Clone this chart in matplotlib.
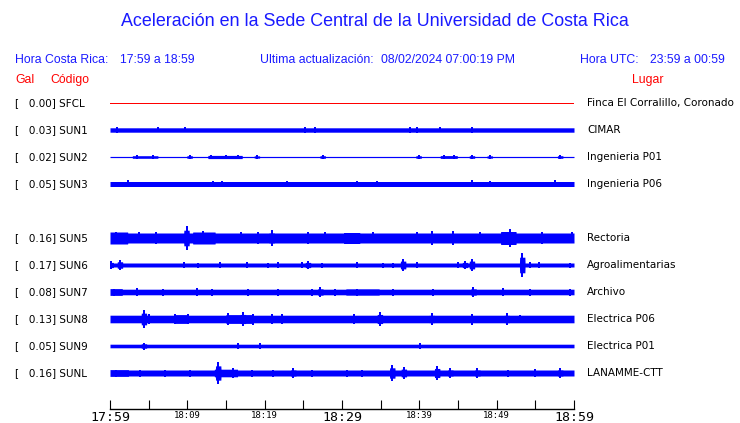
import numpy as np
import matplotlib
matplotlib.use("Agg")
import matplotlib.pyplot as plt
from matplotlib.transforms import blended_transform_factory

# Station rows (row 4 is empty in the display)
codes = ["SFCL", "SUN1", "SUN2", "SUN3", None, "SUN5", "SUN6", "SUN7", "SUN8", "SUN9", "SUNL"]
places = ["Finca El Corralillo, Coronado", "CIMAR", "Ingenieria P01", "Ingenieria P06", None,
          "Rectoria", "Agroalimentarias", "Archivo", "Electrica P06", "Electrica P01", "LANAMME-CTT"]
gal = [0.00, 0.03, 0.02, 0.05, None, 0.16, 0.17, 0.08, 0.13, 0.05, 0.16]

# base half-width of each trace (pixels)
base_amp = [0.0, 2.2, 0.6, 2.5, None, 5.0, 2.0, 2.8, 3.8, 1.8, 3.0]

# (minute, half amplitude px) spikes
sun1_events = [(0.9, 3.0), (6.2, 2.5), (9.7, 2.5), (25.2, 3.0), (26.5, 3.0),
               (38.8, 3.0), (39.7, 3.0), (42.7, 2.5), (46.8, 3.0)]
sun2_events = [(3.5, 1.8), (5.5, 1.8), (10.3, 2.0), (13.0, 2.0), (15.0, 2.0), (16.6, 2.0),
               (19.0, 1.8), (27.5, 2.0), (39.9, 2.0), (43.2, 2.0), (44.5, 2.0), (46.8, 2.0),
               (49.1, 1.8), (58.2, 2.0)]
sun3_events = [(2.3, 3.5), (13.3, 3.0), (14.5, 3.0), (22.9, 3.0), (31.9, 3.0), (34.5, 3.0),
               (46.8, 3.5), (49.1, 3.0), (57.5, 3.5)]
sun5_events = [(0.8, 6.0), (3.7, 5.5), (6.0, 6.0), (9.9, 12.0), (12.0, 6.5), (16.9, 5.5),
               (19.1, 6.0), (20.9, 8.0), (25.6, 6.0), (27.8, 5.5), (34.0, 5.5), (39.7, 5.5),
               (41.6, 7.0), (44.4, 7.0), (47.9, 5.5), (51.7, 9.0), (55.8, 6.0), (59.7, 5.5)]
sun6_events = [(0.1, 4.0), (1.3, 5.0), (9.6, 3.0), (11.4, 2.5), (14.2, 3.0), (17.7, 3.0),
               (20.4, 2.5), (21.7, 3.0), (24.8, 3.0), (25.6, 4.0), (27.4, 2.5), (31.9, 3.0),
               (35.3, 2.5), (36.6, 2.5), (37.9, 6.0), (39.7, 3.0), (45.0, 3.0), (45.9, 4.0),
               (46.8, 6.0), (53.3, 12.0), (54.3, 3.0), (55.5, 3.0), (59.5, 2.5)]
sun7_events = [(0.5, 3.5), (3.5, 4.0), (6.9, 3.5), (11.2, 4.0), (13.2, 3.5), (17.9, 3.5),
               (21.7, 3.5), (26.1, 3.5), (27.2, 5.0), (29.1, 3.5), (32.0, 3.5), (36.6, 3.5),
               (41.8, 3.5), (47.0, 5.0), (50.8, 4.0), (54.3, 3.5), (59.5, 3.5)]
sun8_events = [(4.4, 9.0), (5.0, 5.0), (8.4, 5.0), (10.1, 5.0), (15.3, 6.0), (17.2, 7.0),
               (18.5, 5.5), (21.0, 5.0), (22.2, 5.0), (31.5, 5.0), (34.9, 7.0), (41.6, 6.0),
               (46.8, 5.5), (51.3, 6.0), (53.0, 4.5)]
sun9_events = [(4.4, 3.5), (16.5, 2.5), (19.4, 2.5), (40.1, 2.5)]
sunl_events = [(0.8, 3.5), (3.9, 3.5), (7.1, 3.5), (10.3, 3.5), (14.0, 11.0), (15.9, 5.0),
               (18.3, 3.5), (21.1, 3.5), (23.7, 5.0), (26.1, 3.5), (30.6, 3.5), (32.6, 3.5),
               (36.5, 8.0), (38.0, 6.0), (42.3, 7.0), (44.0, 5.0), (47.5, 5.0), (51.5, 3.5),
               (55.0, 4.0), (58.2, 5.0)]

# (start minute, end minute, half amplitude px) noisier stretches
sun2_bursts = [(2.9, 6.2, 1.3), (12.7, 17.1, 1.6), (42.7, 44.9, 1.4)]
sun5_bursts = [(0.0, 2.3, 6.0), (10.7, 13.6, 6.0), (30.2, 32.3, 5.5), (50.5, 52.5, 6.5)]
sun7_bursts = [(0.0, 1.6, 3.4), (30.5, 34.8, 3.2)]
sun8_bursts = [(8.4, 10.1, 4.4), (15.0, 18.5, 4.4)]
sunl_bursts = [(0.0, 2.4, 3.4), (13.5, 16.5, 3.8)]

events = [[], sun1_events, sun2_events, sun3_events, None, sun5_events, sun6_events,
          sun7_events, sun8_events, sun9_events, sunl_events]
bursts = [[], [], sun2_bursts, [], None, sun5_bursts, [], sun7_bursts, sun8_bursts, [], sunl_bursts]

major_labels = ["17:59", "18:09", "18:19", "18:29", "18:39", "18:49", "18:59"]

W, H = 740, 423
ROW_PX = 27.0
fig = plt.figure(figsize=(W / 100, H / 100), dpi=100)
ax = fig.add_axes([110 / W, 1 - 409 / H, 464 / W, 319 / H])
ax.set_xlim(0, 60)
ax.set_ylim((409 - 103) / ROW_PX, (90 - 103) / ROW_PX)

t = np.linspace(0, 60, 2400)
for row, code in enumerate(codes):
    if code is None:
        continue
    if code == "SFCL":
        ax.plot([0, 60], [row, row], color="red", lw=0.55, antialiased=False)
        continue
    env = np.full_like(t, base_amp[row])
    for s, e, a in bursts[row]:
        env = np.where((t >= s) & (t <= e), np.maximum(env, a), env)
    for m, a in events[row]:
        env = np.where(np.abs(t - m) < 0.35, np.maximum(env, 0.65 * a), env)
    ax.fill_between(t, row - env / ROW_PX, row + env / ROW_PX, color="#0000ff", lw=0,
                    antialiased=False)
    em = [m for m, a in events[row]]
    ea = np.array([a for m, a in events[row]]) / ROW_PX
    ax.vlines(em, row - ea, row + ea, color="#0000ff", lw=1.4, antialiased=False)

for s in ["top", "left", "right"]:
    ax.spines[s].set_visible(False)
ax.spines["bottom"].set_linewidth(1.0)
ax.set_yticks([])
ax.set_xticks(np.arange(0, 61, 10))
ax.set_xticks(np.arange(5, 60, 10), minor=True)
ax.set_xticklabels(major_labels, family="DejaVu Sans Mono")
ax.tick_params(axis="x", which="both", direction="in", length=6.5, width=0.8, pad=1.5)
for i, lab in enumerate(ax.get_xticklabels()):
    lab.set_fontsize(9.5 if i % 3 == 0 else 6.5)

# texts
sans = "Liberation Sans"
fig.text(0.507, 1 - 22 / H, "Aceleración en la Sede Central de la Universidad de Costa Rica",
         ha="center", va="center", fontsize=12.9, color="#1a1aff", family=sans)
hy = 1 - 60 / H
fig.text(15 / W, hy, "Hora Costa Rica:", va="center", fontsize=8.8, color="#1a1aff", family=sans)
fig.text(120 / W, hy, "17:59 a 18:59", va="center", fontsize=8.8, color="#1a1aff", family=sans)
fig.text(260 / W, hy, "Ultima actualización:", va="center", fontsize=8.8, color="#1a1aff", family=sans)
fig.text(381 / W, hy, "08/02/2024 07:00:19 PM", va="center", fontsize=8.8, color="#1a1aff", family=sans)
fig.text(580 / W, hy, "Hora UTC:", va="center", fontsize=8.8, color="#1a1aff", family=sans)
fig.text(650 / W, hy, "23:59 a 00:59", va="center", fontsize=8.8, color="#1a1aff", family=sans)
ry = 1 - 80 / H
fig.text(15 / W, ry, "Gal", va="center", fontsize=8.8, color="red", family=sans)
fig.text(50 / W, ry, "Código", va="center", fontsize=8.8, color="red", family=sans)
fig.text(632 / W, ry, "Lugar", va="center", fontsize=8.8, color="red", family=sans)

tr = blended_transform_factory(fig.transFigure, ax.transData)
for row, code in enumerate(codes):
    if code is None:
        continue
    ax.text(15 / W, row, f"[   {gal[row]:.2f}] {code}", transform=tr, va="center",
            fontsize=7.5, color="black", clip_on=False)
    ax.text(587 / W, row, places[row], transform=tr, va="center",
            fontsize=7.5, color="black", clip_on=False)

fig.savefig("out.png", dpi=100)
